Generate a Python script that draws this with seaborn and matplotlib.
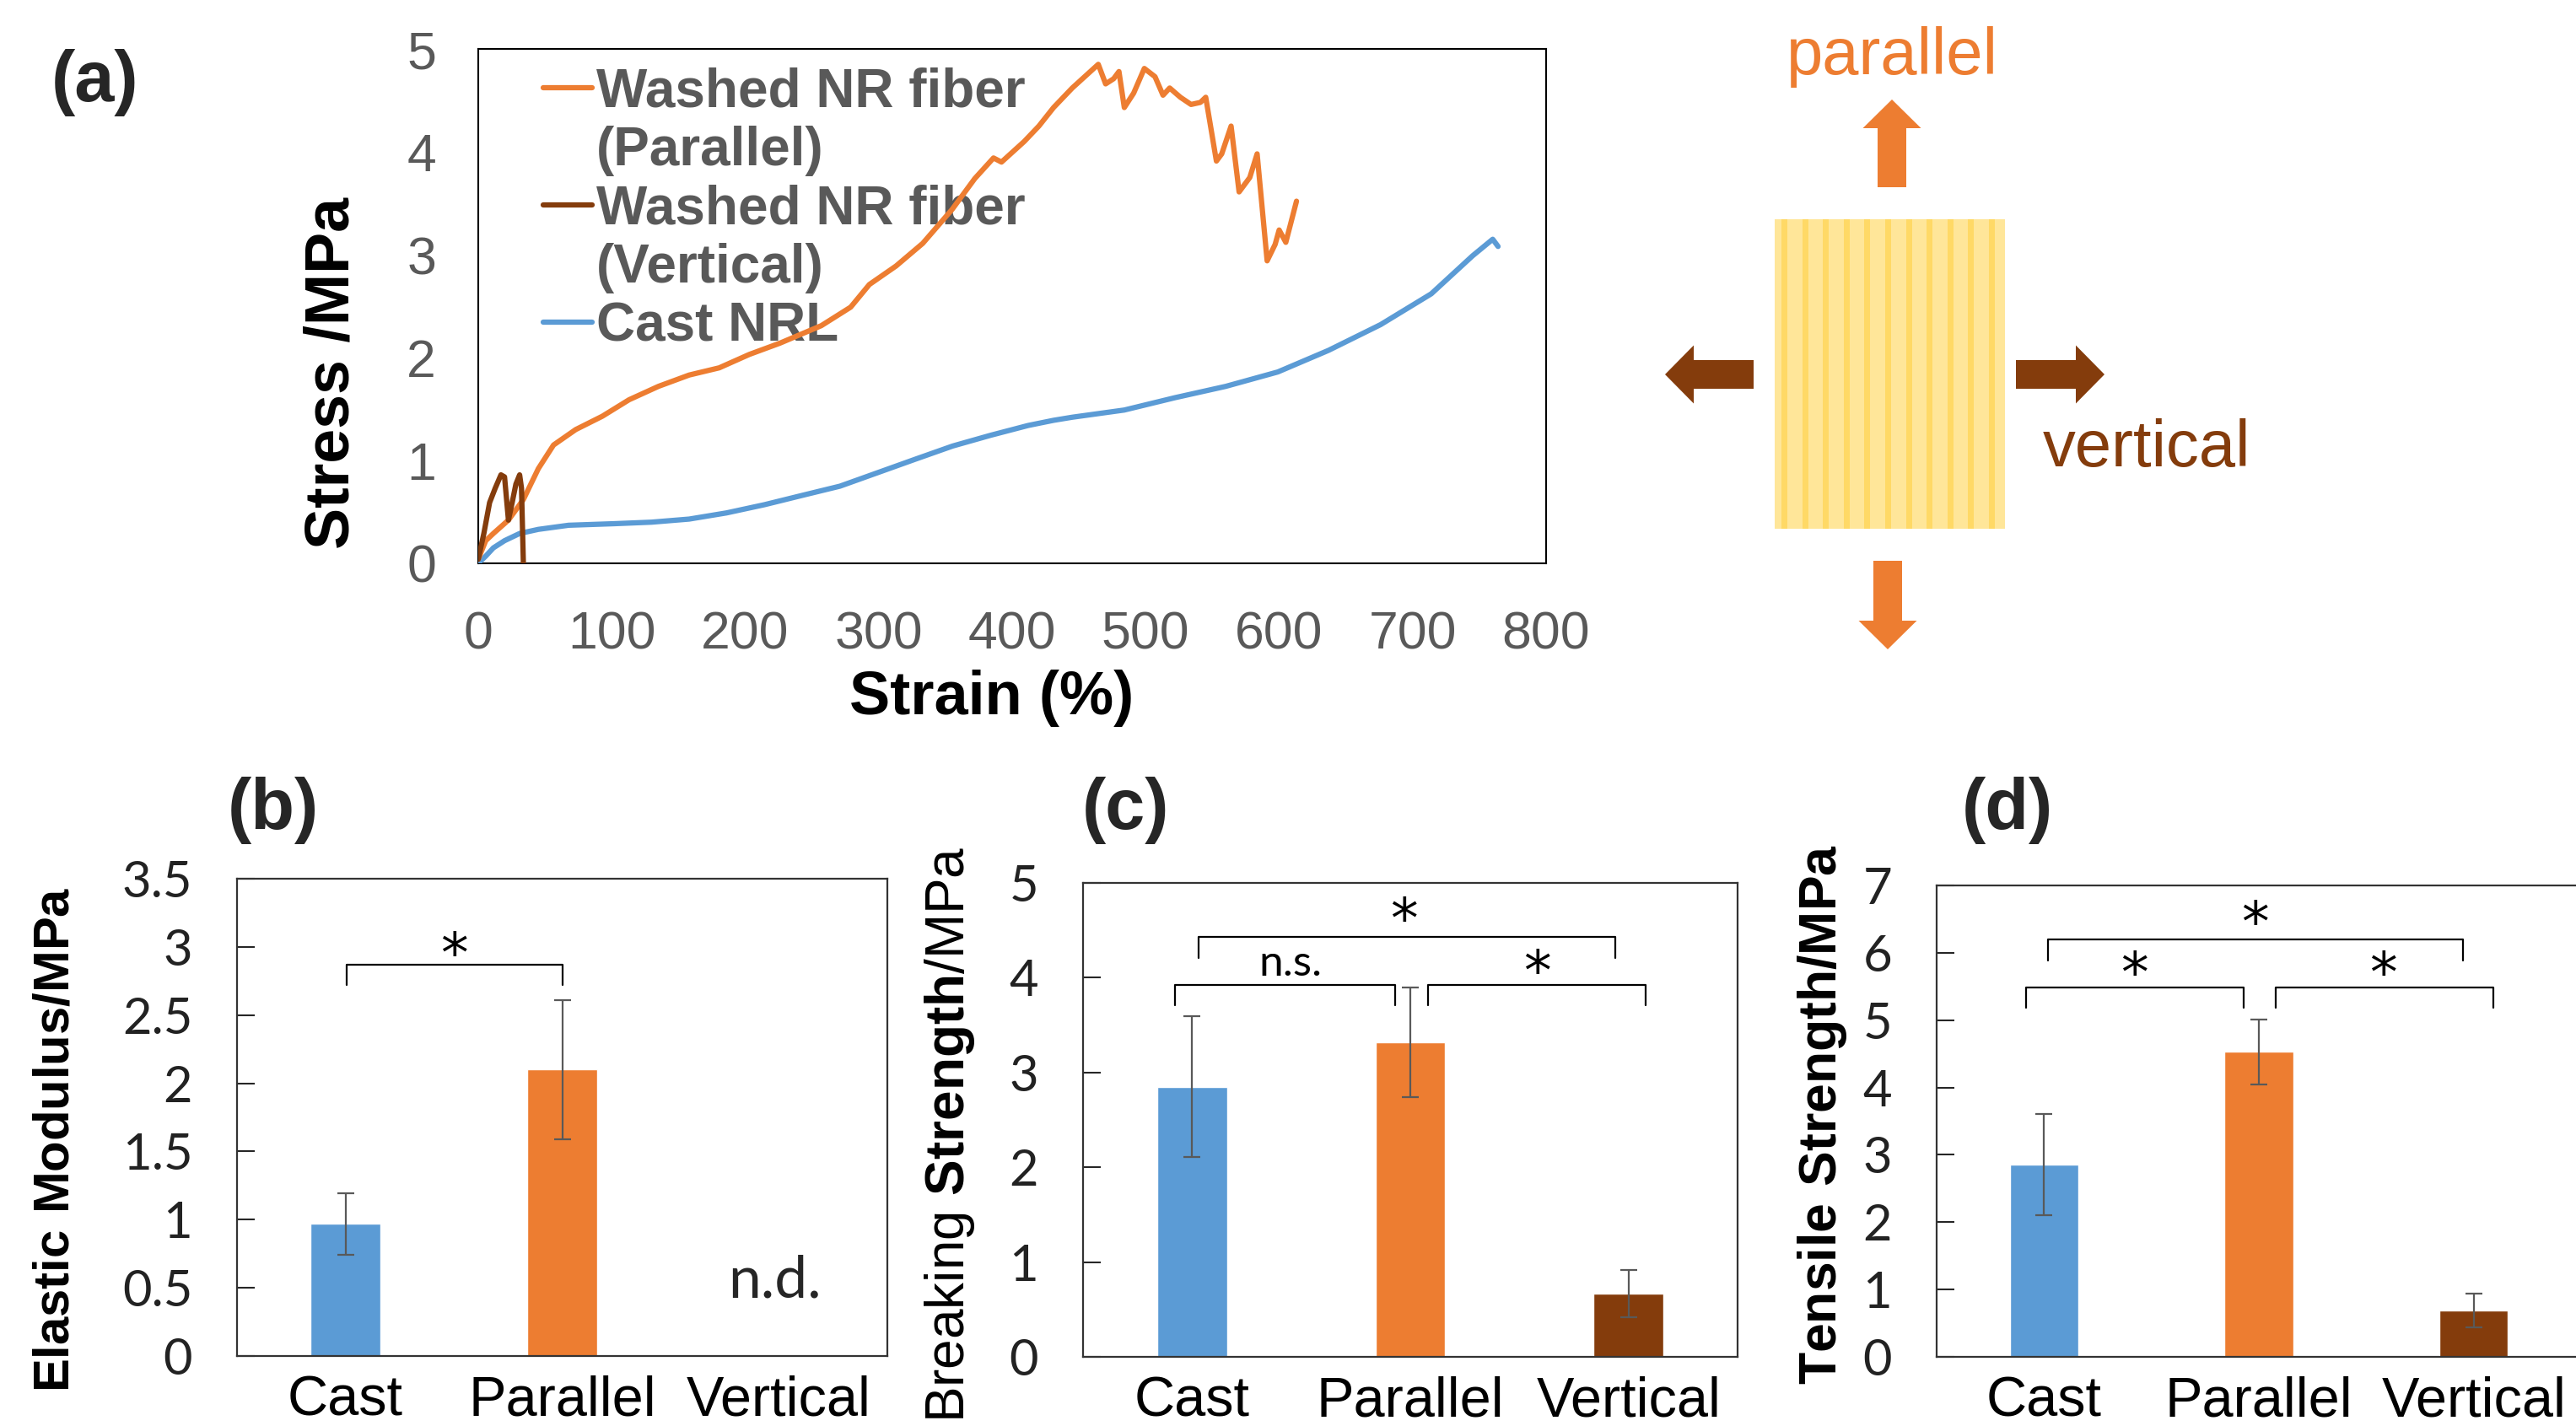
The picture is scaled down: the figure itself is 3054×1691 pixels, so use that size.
import numpy as np
import pandas as pd
import matplotlib
matplotlib.use("Agg")
import matplotlib.pyplot as plt
import seaborn as sns
from matplotlib.lines import Line2D
from matplotlib.patches import FancyArrow, Rectangle
from matplotlib.ticker import FuncFormatter, MultipleLocator


# ── Data ──────────────────────────────────────────────────────────────────────
# (a) stress-strain curves
par_strain = [0, 5.6, 11.3, 22.6, 33.8, 45, 56.4, 73, 93, 113, 135, 158, 180.5, 203, 226,
              257, 279, 293, 313, 333, 355, 372, 386, 392, 409, 420, 431, 445, 464.5,
              470, 476, 480, 484, 491, 499, 507, 513, 518, 526, 534, 541, 545, 553, 557,
              564, 570, 578, 583.5, 591, 597, 600, 605, 613]
par_stress = [0.04, 0.22, 0.29, 0.42, 0.62, 0.92, 1.15, 1.30, 1.43, 1.59, 1.72, 1.83, 1.90,
              2.03, 2.14, 2.31, 2.49, 2.71, 2.89, 3.11, 3.44, 3.74, 3.94, 3.90, 4.10, 4.25,
              4.43, 4.62, 4.85, 4.66, 4.71, 4.78, 4.43, 4.57, 4.81, 4.73, 4.55, 4.62, 4.53,
              4.46, 4.48, 4.53, 3.91, 3.98, 4.25, 3.61, 3.75, 3.98, 2.94, 3.10, 3.24, 3.12, 3.52]

ver_strain = [0, 4.2, 8.5, 12.7, 17, 19.7, 22.6, 25.4, 28.2, 31, 32.4, 33.8]
ver_stress = [0.04, 0.29, 0.59, 0.73, 0.86, 0.84, 0.42, 0.59, 0.77, 0.86, 0.73, 0.0]

cast_strain = [0, 5.6, 11.3, 19.7, 31, 45, 67.7, 101.5, 129.8, 158, 186, 214.5, 242.6, 271,
               299, 327, 355.4, 384, 412, 431, 445, 484, 522, 560, 599, 637, 676, 714,
               745, 760, 764]
cast_stress = [0, 0.07, 0.15, 0.22, 0.29, 0.33, 0.37, 0.385, 0.40, 0.43, 0.49, 0.57, 0.66,
               0.75, 0.88, 1.01, 1.14, 1.245, 1.34, 1.39, 1.42, 1.49, 1.61, 1.72, 1.86,
               2.07, 2.32, 2.62, 2.99, 3.15, 3.08]

# (b)-(d) bar values and error bars
categories = ["Cast", "Parallel", "Vertical"]
modulus_mean = [0.97, 2.10, np.nan]
modulus_err = [0.225, 0.51, np.nan]
breaking_mean = [2.85, 3.32, 0.67]
breaking_err = [0.74, 0.58, 0.25]
tensile_mean = [2.86, 4.53, 0.69]
tensile_err = [0.75, 0.48, 0.25]

# significance brackets: (x1, x2, y, leg_bottom, label, label_x, label_y)
sig_b = [(0.005, 1.0, 2.87, 2.72, "*", 0.50, 2.96)]
sig_c = [(-0.08, 0.93, 3.92, 3.71, "n.s.", 0.45, 4.15),
         (1.08, 2.08, 3.92, 3.71, "*", 1.58, 4.08),
         (0.03, 1.94, 4.43, 4.21, "*", 0.97, 4.63)]
sig_d = [(-0.084, 0.93, 5.49, 5.18, "*", 0.42, 5.72),
         (1.08, 2.09, 5.49, 5.18, "*", 1.58, 5.72),
         (0.02, 1.95, 6.20, 5.89, "*", 0.98, 6.47)]

BLUE, ORANGE, BROWN = "#5B9BD5", "#ED7D31", "#843C0C"
bar_colors = dict(zip(categories, [BLUE, ORANGE, BROWN]))

# ── Style ─────────────────────────────────────────────────────────────────────
sns.set_theme(style="white")
plt.rcParams["font.family"] = ["Liberation Sans", "DejaVu Sans"]
plt.rcParams["mathtext.fontset"] = "custom"
plt.rcParams["mathtext.rm"] = "Liberation Sans"
plt.rcParams["mathtext.bf"] = "Liberation Sans:bold"

W, H = 3054, 1691
fig = plt.figure(figsize=(W / 100, H / 100), dpi=100)


def px_axes(left, right, top, bottom):
    return fig.add_axes([left / W, 1 - bottom / H, (right - left) / W, (bottom - top) / H])


# ── (a) stress-strain ─────────────────────────────────────────────────────────
ax_a = px_axes(567, 1833, 58, 668)
curves = pd.concat([
    pd.DataFrame({"strain": cast_strain, "stress": cast_stress, "sample": "Cast NRL"}),
    pd.DataFrame({"strain": par_strain, "stress": par_stress, "sample": "Parallel"}),
    pd.DataFrame({"strain": ver_strain, "stress": ver_stress, "sample": "Vertical"}),
])
sns.lineplot(data=curves, x="strain", y="stress", hue="sample",
             hue_order=["Cast NRL", "Parallel", "Vertical"],
             palette=[BLUE, ORANGE, BROWN], sort=False, estimator=None,
             lw=4.5, legend=False, ax=ax_a, zorder=3)
ax_a.set_xlim(0, 800)
ax_a.set_ylim(0, 5)
ax_a.xaxis.set_major_locator(MultipleLocator(100))
ax_a.yaxis.set_major_locator(MultipleLocator(1))
ax_a.tick_params(direction="in", length=14, width=1.5, colors="black",
                 labelcolor="#595959", labelsize=45)
ax_a.tick_params(axis="y", pad=36)
ax_a.tick_params(axis="x", pad=40)
for s in ax_a.spines.values():
    s.set_color("black")
    s.set_linewidth(1.5)
ax_a.set_xlabel("Strain (%)", fontsize=52, weight="bold", color="black", va="center")
ax_a.set_ylabel("Stress /MPa", fontsize=53, weight="bold", color="black", va="center")
ax_a.xaxis.set_label_coords(0.481, -0.262)
ax_a.yaxis.set_label_coords(-0.137, 0.37)

blank = Line2D([], [], color="none")
handles = [Line2D([], [], color=ORANGE, lw=4.5, solid_capstyle="round"), blank,
           Line2D([], [], color=BROWN, lw=4.5, solid_capstyle="round"), blank,
           Line2D([], [], color=BLUE, lw=4.5, solid_capstyle="round")]
labels = ["Washed NR fiber", "(Parallel)", "Washed NR fiber", "(Vertical)", "Cast NRL"]
leg = ax_a.legend(handles, labels, loc="upper left", bbox_to_anchor=(0.061, 0.965),
                  frameon=False, borderpad=0, borderaxespad=0, handlelength=0.9,
                  handletextpad=0.08, labelspacing=0.15,
                  prop={"size": 46, "weight": "bold"})
for t in leg.get_texts():
    t.set_color("#595959")
leg.set_zorder(1)

# ── schematic (pixel coordinates) ─────────────────────────────────────────────
ax_s = px_axes(1950, 2750, 0, 820)
ax_s.set_xlim(1950, 2750)
ax_s.set_ylim(820, 0)
ax_s.axis("off")
ax_s.add_patch(Rectangle((2104, 260), 273, 367, color="#FFE699", lw=0))
for sx in np.arange(2112, 2372, 24.6):
    ax_s.add_patch(Rectangle((sx, 260), 7, 367, color="#FFD966", lw=0))
arrow_kw = dict(width=34, head_width=69, head_length=34, length_includes_head=True, lw=0)
ax_s.add_patch(FancyArrow(2243, 222, 0, -104, color=ORANGE, **arrow_kw))
ax_s.add_patch(FancyArrow(2238, 665, 0, 105, color=ORANGE, **arrow_kw))
ax_s.add_patch(FancyArrow(2079, 444, -105, 0, color=BROWN, **arrow_kw))
ax_s.add_patch(FancyArrow(2390, 444, 105, 0, color=BROWN, **arrow_kw))
ax_s.text(2118, 88, "parallel", color=ORANGE, fontsize=56, va="baseline", ha="left")
ax_s.text(2422, 553, "vertical", color=BROWN, fontsize=56, va="baseline", ha="left")


# ── (b)-(d) bar charts ────────────────────────────────────────────────────────
def bar_panel(ax, means, errs, ymax, ystep, ylabel, label_fs, label_xy, sig):
    df = pd.DataFrame({"cat": categories, "val": means})
    sns.barplot(data=df, x="cat", y="val", hue="cat", order=categories,
                hue_order=categories, palette=bar_colors, width=0.32,
                errorbar=None, legend=False, saturation=1, ax=ax)
    ax.errorbar(range(3), means, yerr=errs, fmt="none", ecolor="#595959",
                elinewidth=1.6, capsize=7, capthick=1.6)
    ax.set_xlim(-0.5, 2.5)
    ax.set_ylim(0, ymax)
    ax.yaxis.set_major_locator(MultipleLocator(ystep))
    ax.yaxis.set_major_formatter(FuncFormatter(lambda v, p: f"{v:g}"))
    ax.tick_params(axis="y", direction="in", length=15, width=1.5, left=True,
                   labelsize=43, labelcolor="#222222", pad=38,
                   labelfontfamily="Lato")
    ax.tick_params(axis="x", length=0, labelsize=48, labelcolor="black", pad=16)
    for s in ax.spines.values():
        s.set_color("#333333")
        s.set_linewidth(1.6)
    ax.set_xlabel("")
    ax.set_ylabel(ylabel, fontsize=label_fs, color="black", va="center")
    ax.yaxis.set_label_coords(*label_xy)
    for x1, x2, y, yb, txt, tx, ty in sig:
        ax.plot([x1, x1, x2, x2], [yb, y, y, yb], color="black", lw=1.6)
        if txt == "*":
            ax.annotate(txt, (tx, ty), xytext=(0, -17), textcoords="offset points",
                        ha="center", va="baseline", fontsize=47,
                        family="DejaVu Sans", color="black")
        else:
            ax.text(tx, ty, txt, ha="center", va="center", fontsize=37,
                    family="Lato", color="black")


ax_b = px_axes(281, 1052, 1042, 1608)
bar_panel(ax_b, modulus_mean, modulus_err, 3.5, 0.5, r"$\mathbf{Elastic\ Modulus/MPa}$",
          43, (-0.279, 0.454), sig_b)
ax_b.text(1.98, 0.43, "n.d.", ha="center", va="baseline", fontsize=50, family="Lato")

ax_c = px_axes(1284, 2060, 1047, 1609)
bar_panel(ax_c, breaking_mean, breaking_err, 5, 1, r"Breaking $\mathbf{Strength}$/MPa",
          46, (-0.204, 0.47), sig_c)

ax_d = px_axes(2296, 3060, 1050, 1609)
bar_panel(ax_d, tensile_mean, tensile_err, 7, 1, r"$\mathbf{Tensile\ Strength/MPa}$",
          45, (-0.177, 0.515), sig_d)

# panel letters
for txt, x, base in [("(a)", 61, 120), ("(b)", 270, 983), ("(c)", 1283, 983), ("(d)", 2326, 983)]:
    fig.text(x / W, 1 - base / H, txt, fontsize=61, weight="bold", va="baseline", ha="left")

plt.savefig("out.png", dpi=100)
